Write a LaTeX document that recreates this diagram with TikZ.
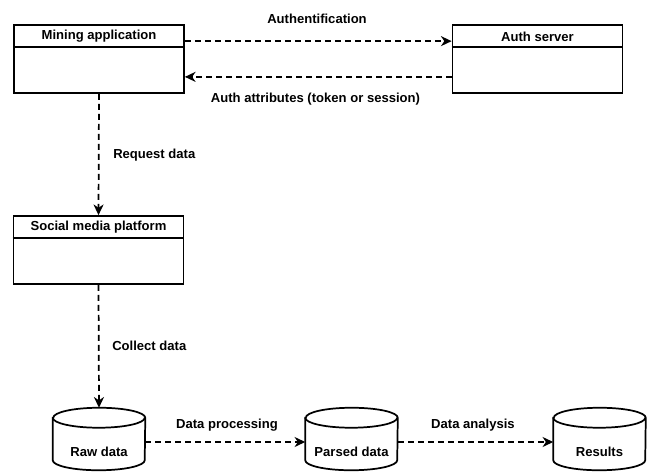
\documentclass[tikz,border=0pt]{standalone}
\usepackage{fontspec}
\setmainfont{Liberation Sans}
\usetikzlibrary{arrows.meta}
\begin{document}
\begin{tikzpicture}[x=0.75pt,y=-0.75pt,
  box/.style={draw, line width=1.3pt, fill=white, minimum width=127.5pt, minimum height=51pt, inner sep=0pt},
  title/.style={font=\bfseries\fontsize{9.8pt}{11pt}\selectfont, inner sep=0pt},
  lbl/.style={font=\bfseries\fontsize{9.8pt}{11pt}\selectfont, inner sep=0pt},
  store/.style={minimum width=69pt, minimum height=46.5pt, inner sep=0pt},
  cyl/.style={draw, line width=1.3pt, fill=white},
  flow/.style={line width=1.3pt, dash pattern=on 4.5pt off 3pt, -{Stealth[length=8pt,width=7.5pt,inset=2.5pt]}}]
\useasboundingbox (0,0) rectangle (647,472);

% class-like boxes with a header row
\node[box] (mine) at (99,59) {};
\node[box] (auth) at (537.5,59) {};
\node[box] (social) at (98.5,250) {};
\foreach \b in {mine,auth,social}
  \draw[line width=1.3pt] ([yshift=-17.25pt]\b.north west) -- ([yshift=-17.25pt]\b.north east);
\node[title] (mineT) at (99,36.5) {Mining application};
\node[title] (authT) at (537.5,36.5) {Auth server};
\node[title] (socialT) at (98.5,227.5) {Social media platform};

% data stores drawn as cylinders
\node[store] (raw) at (99,439) {};
\node[store] (parsed) at (351.5,439) {};
\node[store] (results) at (599.5,439) {};
\foreach \s in {raw,parsed,results}{
  \draw[cyl] ([yshift=-7.5pt]\s.north west) -- ([yshift=7.5pt]\s.south west)
    arc[start angle=180,end angle=360,x radius=34.5pt,y radius=7.5pt]
    -- ([yshift=-7.5pt]\s.north east)
    arc[start angle=0,end angle=180,x radius=34.5pt,y radius=7.5pt] -- cycle;
  \draw[line width=1.3pt] ([yshift=-7.5pt]\s.north west)
    arc[start angle=180,end angle=360,x radius=34.5pt,y radius=7.5pt];
}
\node[title] (rawT) at (99,452) {Raw data};
\node[title] (parsedT) at (351.5,452) {Parsed data};
\node[title] (resultsT) at (599.5,452) {Results};

% connectors
\draw[flow] ([yshift=-12.75pt]mine.north east) -- ([yshift=-12.75pt]auth.north west);
\draw[flow] ([yshift=12.75pt]auth.south west) -- ([yshift=12.75pt]mine.south east);
\draw[flow] (mine.south) -- (social.north);
\draw[flow] (social.south) -- (raw.north);
\draw[flow] ([yshift=-2.25pt]raw.east) -- ([yshift=-2.25pt]parsed.west);
\draw[flow] ([yshift=-2.25pt]parsed.east) -- ([yshift=-2.25pt]results.west);

% connector labels
\node[lbl] (l1) at (317,19) {Authentification};
\node[lbl] (l2) at (315.5,99) {Auth attributes (token or session)};
\node[lbl, anchor=west] (l3) at (113,155) {Request data};
\node[lbl, anchor=west] (l4) at (112,346) {Collect data};
\node[lbl] (l5) at (227,425) {Data processing};
\node[lbl] (l6) at (473,425) {Data analysis};
\end{tikzpicture}
\end{document}
